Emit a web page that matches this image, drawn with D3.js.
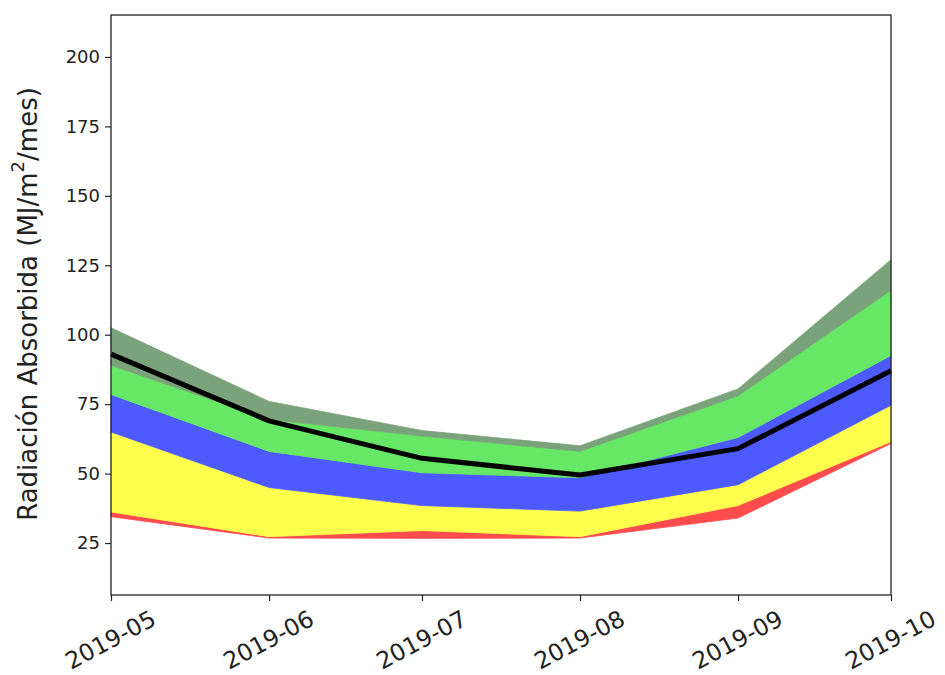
<!DOCTYPE html>
<html><head><meta charset="utf-8">
<script src="https://cdn.jsdelivr.net/npm/d3@7"></script>
<style>body{margin:0;background:#fff}svg{display:block}text{font-family:"DejaVu Sans",sans-serif;fill:#222}</style>
</head><body>
<svg id="c" width="945" height="675"></svg>
<script>
const months = ["2019-05","2019-06","2019-07","2019-08","2019-09","2019-10"];
const q0 = [34.5, 26.8, 26.7, 26.8, 34.0, 60.8];
const q1 = [36.2, 27.3, 29.5, 27.3, 38.5, 61.5];
const q2 = [65.0, 45.0, 38.5, 36.5, 46.0, 74.6];
const q3 = [78.5, 58.0, 50.3, 48.5, 63.0, 92.5];
const q4 = [89.0, 69.5, 63.5, 58.0, 78.0, 116.0];
const q5 = [102.5, 76.0, 65.5, 60.0, 80.5, 127.0];
const actual = [93.0, 69.0, 55.5, 49.5, 59.0, 87.0];
const yTicks = [25, 50, 75, 100, 125, 150, 175, 200];
const bandColors = ["#ff4d4d", "#ffff4d", "#4d5aff", "#66e866", "#7ba37b"];

const parse = d3.timeParse("%Y-%m");
const dates = months.map(parse);
const svg = d3.select("#c");
const L = 111, R = 891, T = 15, B = 595;
const x = d3.scaleTime().domain([dates[0], dates[dates.length-1]]).range([L, R]);
const y = d3.scaleLinear().domain([6.3, 215.1]).range([B, T]);

const levels = [q0, q1, q2, q3, q4, q5];
for (let b = 0; b < 5; b++) {
  const lo = levels[b], hi = levels[b+1];
  const area = d3.area().x((d,i)=>x(dates[i])).y0((d,i)=>y(lo[i])).y1((d,i)=>y(hi[i]));
  svg.append("path").datum(months).attr("d", area).attr("fill", bandColors[b]).attr("stroke", bandColors[b]).attr("stroke-width", 0.8);
}
const line = d3.line().x((d,i)=>x(dates[i])).y(d=>y(d));
svg.append("path").datum(actual).attr("d", line).attr("fill","none").attr("stroke","#000").attr("stroke-width",5).attr("stroke-linejoin","round");

// axes
const gy = svg.append("g").attr("transform",`translate(${L},0)`)
  .call(d3.axisLeft(y).tickValues(yTicks).tickSize(6).tickPadding(5));
gy.select(".domain").remove();
gy.selectAll("text").style("font-size","18px").attr("fill","#222");
gy.selectAll("line").attr("stroke","#222").attr("stroke-width",1.2);

const gx = svg.append("g").attr("transform",`translate(0,${B})`)
  .call(d3.axisBottom(x).tickValues(dates).tickSize(6).tickFormat(d3.timeFormat("%Y-%m")));
gx.select(".domain").remove();
gx.selectAll("line").attr("stroke","#222").attr("stroke-width",1.2);
gx.selectAll("text").style("font-size","23.5px").attr("fill","#222")
  .attr("text-anchor","middle").attr("dominant-baseline","central")
  .attr("y",0).attr("dy",0)
  .attr("transform","translate(-1,45) rotate(-28)");

svg.append("rect").attr("x",L).attr("y",T).attr("width",R-L).attr("height",B-T)
  .attr("fill","none").attr("stroke","#222").attr("stroke-width",1.3);

const yl = svg.append("text").attr("transform",`translate(28,${304}) rotate(-90)`)
  .attr("text-anchor","middle").attr("dominant-baseline","central").style("font-size","26px");
yl.append("tspan").text("Radiación Absorbida (MJ/m");
yl.append("tspan").text("2").attr("baseline-shift","super").style("font-size","18px");
yl.append("tspan").text("/mes)");
</script>
</body></html>
